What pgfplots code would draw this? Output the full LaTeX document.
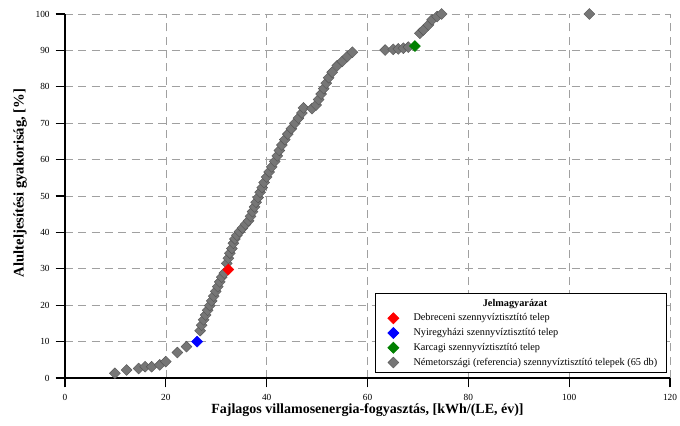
\documentclass[border=0pt]{standalone}
\usepackage{pgfplots}
\pgfplotsset{compat=1.18}
\usepackage{fontspec}
\setmainfont{Liberation Serif}
\definecolor{mgray}{RGB}{118,118,118}
\definecolor{egray}{RGB}{85,85,85}
\definecolor{mgreen}{RGB}{0,128,0}
\definecolor{gridc}{RGB}{160,160,160}
\pgfplotstableread{
x y
9.9 1.3
12.2 2.2
14.6 2.6
15.9 3.1
17.2 3.1
18.8 3.6
20.0 4.5
22.3 7.0
24.1 8.6
26.8 13.0
27.1 14.5
27.5 16.0
27.9 17.3
28.3 18.6
28.7 19.9
29.1 21.2
29.5 22.5
29.9 23.8
30.3 25.1
30.7 26.4
31.1 27.7
31.6 28.8
32.1 31.5
32.4 32.9
32.7 34.3
33.1 35.6
33.4 37.0
33.7 38.2
34.1 39.2
34.6 40.2
35.2 41.2
35.8 42.2
36.4 43.2
36.8 44.4
37.2 45.7
37.6 47.0
37.9 48.3
38.3 49.6
38.7 51.0
39.1 52.3
39.5 53.7
40.0 55.2
40.5 56.6
41.0 58.0
41.6 59.5
42.1 61.0
42.5 62.5
43.0 64.0
43.6 65.5
44.2 67.0
44.9 68.5
45.6 70.0
46.3 71.4
47.0 72.8
47.3 74.2
49.0 74.0
49.8 75.0
50.3 76.5
50.8 78.0
51.3 79.5
51.8 81.0
52.3 82.5
53.0 84.0
54.0 85.8
55.0 87.0
56.0 88.3
57.0 89.5
63.5 90.1
65.1 90.3
66.1 90.4
67.1 90.6
68.1 90.9
70.4 94.7
71.1 95.6
72.1 97.0
72.8 98.4
73.8 99.3
74.7 100
104 100
}\germany
\begin{document}
\begin{tikzpicture}
\begin{axis}[
  scale only axis,
  width=453.75pt, height=273pt,
  xmin=0, xmax=120, ymin=0, ymax=100,
  xtick={0,20,...,120}, ytick={0,10,...,100},
  axis x line*=bottom, axis y line*=left,
  axis line style={black, line width=0.8pt},
  tick align=outside, major tick length=7pt,
  tick style={black, line width=0.8pt},
  grid=major,
  major grid style={gridc, dash pattern=on 6pt off 4pt, line width=0.5pt},
  /pgf/number format/assume math mode=true,
  ticklabel style={font=\fontsize{7}{8}\selectfont},
  xticklabel style={yshift=-2pt},
  yticklabel style={xshift=-1pt},
  xlabel={\textbf{Fajlagos villamosenergia-fogyasztás, [kWh/(LE, év)]}},
  ylabel={\textbf{Alulteljesítési gyakoriság, [\%]}},
  label style={font=\fontsize{10.5}{12}\selectfont},
  xlabel style={at={(axis description cs:0.5,-0.088)}, anchor=center},
  ylabel style={at={(axis description cs:-0.074,0.536)}, anchor=center, font=\fontsize{11}{12}\selectfont},
  legend cell align=left,
  legend style={at={(axis description cs:0.995,0.014)}, anchor=south east,
    draw=black, fill=white, line width=0.6pt,
    font=\fontsize{7.7}{9}\selectfont, row sep=0.2pt,
    inner xsep=5pt, inner ysep=2pt},
  clip=false,
]
\addlegendimage{empty legend}
\addlegendentry{\hspace{61pt}\textbf{Jelmagyarázat}}
\addplot[only marks, mark=square*, mark size=2.9pt,
  mark options={rotate=45, fill=mgray, draw=egray, line width=0.3pt}, forget plot]
  table[x=x,y=y]{\germany};
\addplot[only marks, mark=square*, mark size=2.9pt,
  mark options={rotate=45, fill=red, draw=red}] coordinates {(32.4,29.8)};
\addlegendentry{\hspace{9pt}Debreceni szennyvíztisztító telep}
\addplot[only marks, mark=square*, mark size=2.9pt,
  mark options={rotate=45, fill=blue, draw=blue}] coordinates {(26.2,10.0)};
\addlegendentry{\hspace{9pt}Nyiregyházi szennyvíztisztító telep}
\addplot[only marks, mark=square*, mark size=2.9pt,
  mark options={rotate=45, fill=mgreen, draw=mgreen}] coordinates {(69.4,91.2)};
\addlegendentry{\hspace{9pt}Karcagi szennyvíztisztító telep}
\addlegendimage{only marks, mark=square*, mark size=2.9pt,
  mark options={rotate=45, fill=mgray, draw=egray, line width=0.3pt}}
\addlegendentry{\hspace{9pt}Németországi (referencia) szennyvíztisztító telepek (65 db)}
\coordinate (sw) at (rel axis cs:0,0);
\coordinate (ne) at (rel axis cs:1,1);
\end{axis}
\pgfresetboundingbox
\path ([shift={(-48.75pt,-35.25pt)}]sw) rectangle ([shift={(7.5pt,10.5pt)}]ne);
\end{tikzpicture}
\end{document}
